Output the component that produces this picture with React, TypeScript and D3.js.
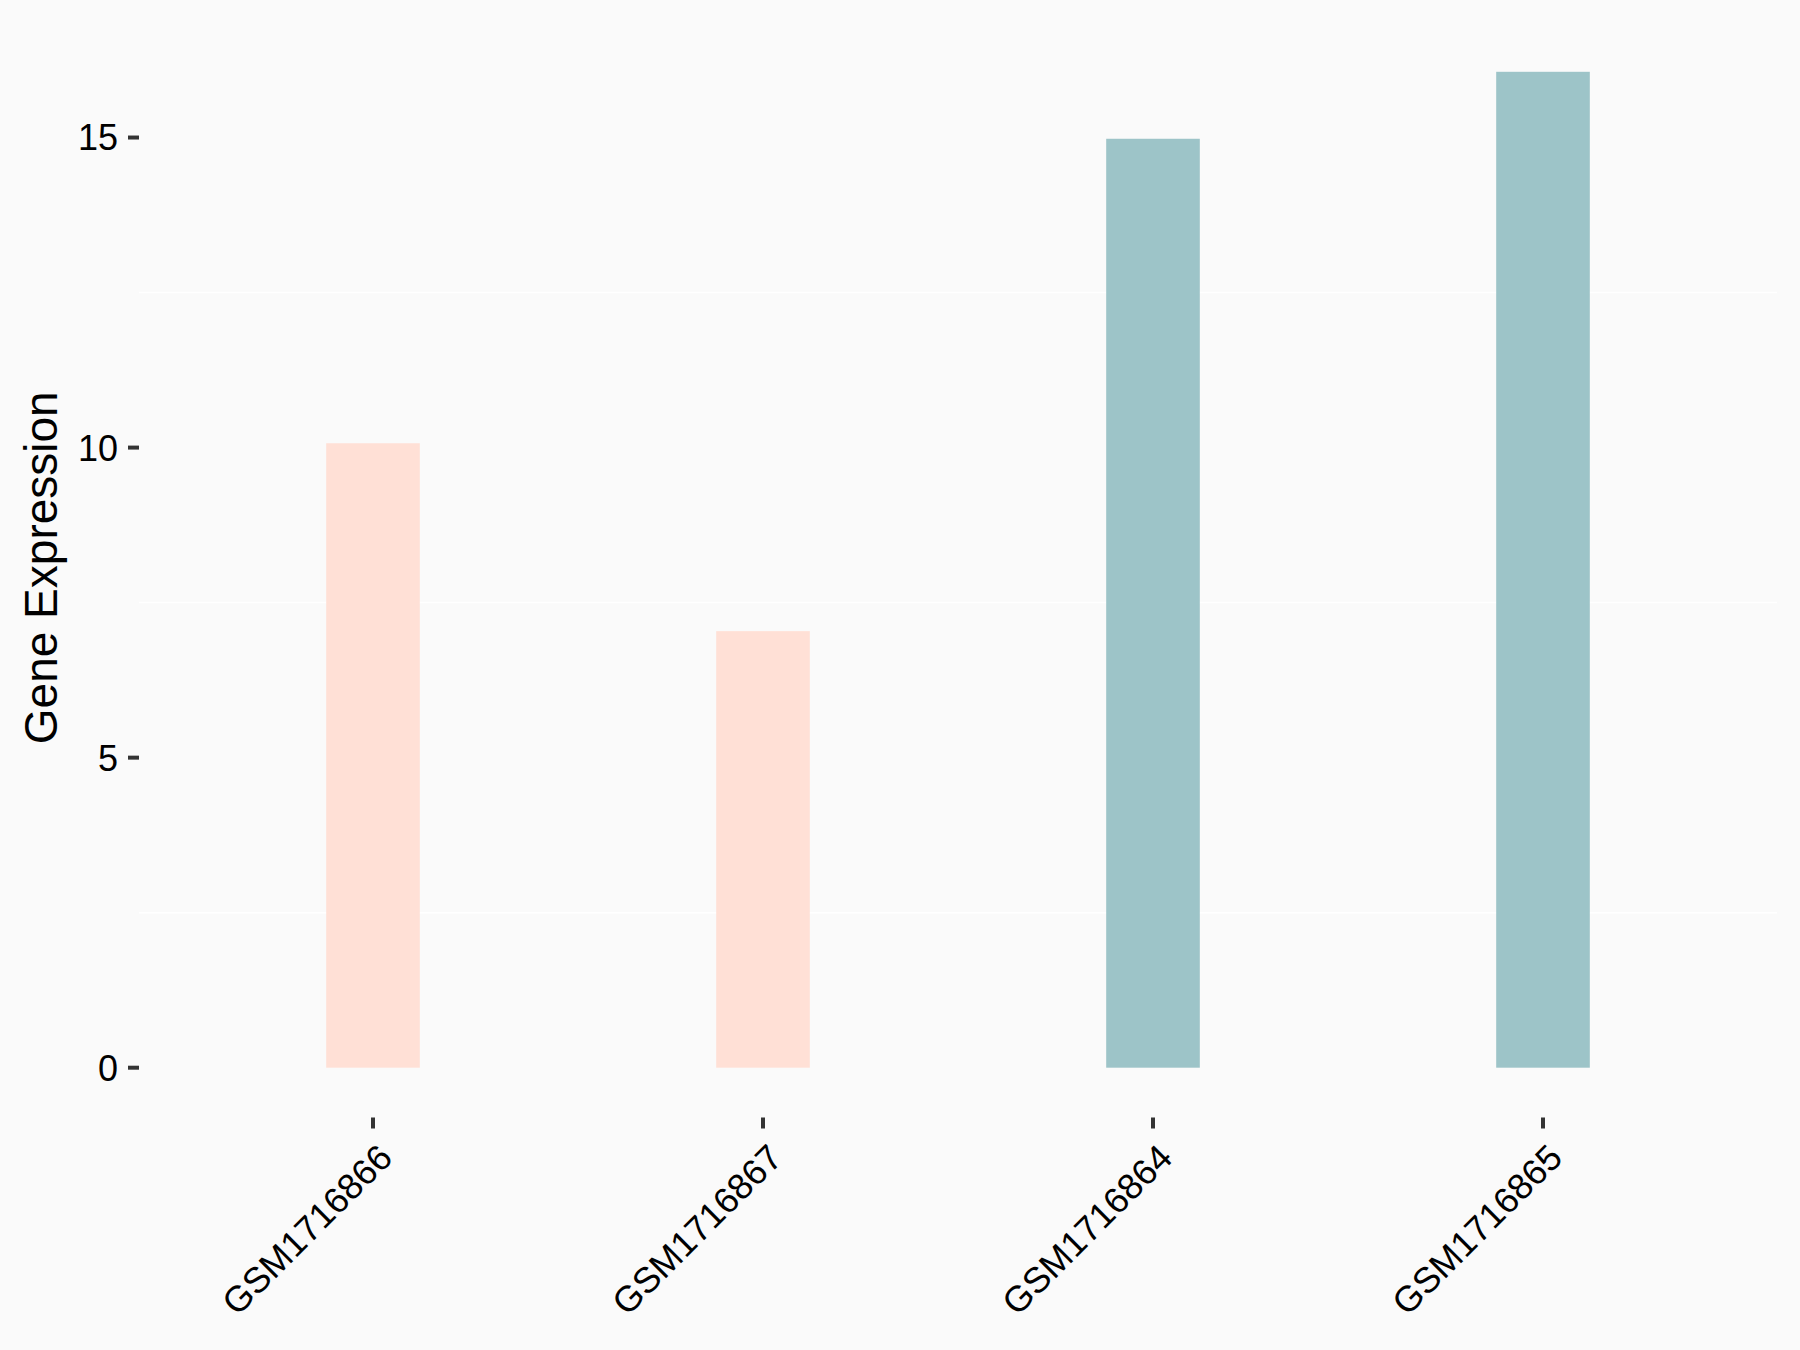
import React from "react";
import * as d3 from "d3";

const categories = ["GSM1716866", "GSM1716867", "GSM1716864", "GSM1716865"];
const values = [10.07, 7.04, 14.98, 16.06];
const groups = ["A", "A", "B", "B"];
const groupColors: Record<string, string> = { A: "#FFE0D6", B: "#9DC4C8" };
const yTicks = [0, 5, 10, 15];
const yMinor = [2.5, 7.5, 12.5];

const W = 1800;
const H = 1350;
const panel = { left: 139, right: 1777, top: 22, bottom: 1117.5 };

export default function App() {
  const x = d3
    .scalePoint<string>()
    .domain(categories)
    .range([panel.left, panel.right])
    .padding(0.6);
  const maxV = d3.max(values) as number;
  const ex = maxV * 0.05;
  const y = d3
    .scaleLinear()
    .domain([-ex, maxV + ex])
    .range([panel.bottom, panel.top]);
  const barW = x.step() * 0.24;
  const font = "'Liberation Sans', Arial, sans-serif";

  return (
    <svg
      width={W}
      height={H}
      style={{ position: "absolute", left: 0, top: 0, display: "block" }}
      fontFamily={font}
    >
      <rect x={0} y={0} width={W} height={H} fill="#FAFAFA" />
      {yMinor.map((t) => (
        <line
          key={t}
          x1={panel.left}
          x2={panel.right}
          y1={y(t)}
          y2={y(t)}
          stroke="#FFFFFF"
          strokeWidth={1.5}
        />
      ))}
      {categories.map((c, i) => (
        <rect
          key={c}
          x={(x(c) as number) - barW / 2}
          y={y(values[i])}
          width={barW}
          height={y(0) - y(values[i])}
          fill={groupColors[groups[i]]}
        />
      ))}
      {yTicks.map((t) => (
        <g key={t}>
          <line
            x1={panel.left - 11}
            x2={panel.left}
            y1={y(t)}
            y2={y(t)}
            stroke="#333333"
            strokeWidth={4}
          />
          <text
            x={panel.left - 21}
            y={y(t)}
            dy="0.36em"
            textAnchor="end"
            fontSize={36}
            fill="#000"
          >
            {t}
          </text>
        </g>
      ))}
      {categories.map((c) => {
        const cx = x(c) as number;
        return (
          <g key={c}>
            <line
              x1={cx}
              x2={cx}
              y1={panel.bottom}
              y2={panel.bottom + 11}
              stroke="#333333"
              strokeWidth={4}
            />
            <text
              transform={`translate(${cx + 3},${panel.bottom + 24}) rotate(-45)`}
              textAnchor="end"
              dy="0.72em"
              fontSize={36}
              fill="#000"
            >
              {c}
            </text>
          </g>
        );
      })}
      <text
        transform={`translate(57,${(panel.top + panel.bottom) / 2 - 2}) rotate(-90)`}
        textAnchor="middle"
        fontSize={46}
        fill="#000"
      >
        Gene Expression
      </text>
    </svg>
  );
}
